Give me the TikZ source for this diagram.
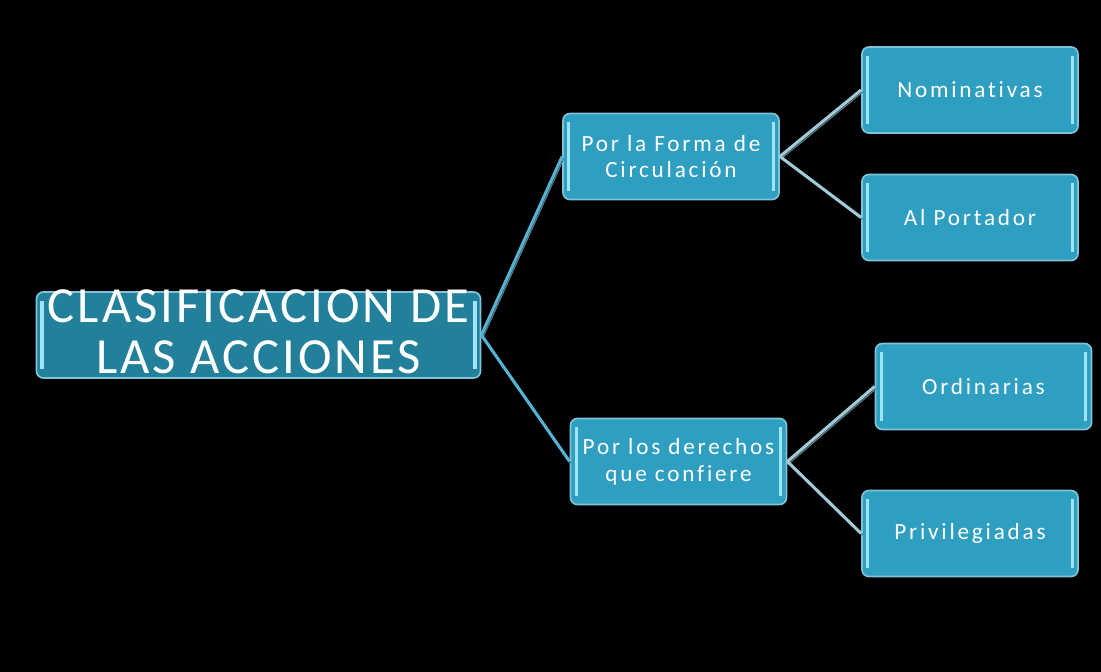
\documentclass[tikz,border=0pt]{standalone}
\usepackage{fontspec}
\setmainfont{Carlito}[Ligatures=NoCommon]
\usetikzlibrary{
  positioning,
  calc
}
\definecolor{acBlack}{HTML}{000000}
\definecolor{acTeal}{HTML}{22809A}
\definecolor{acBlue}{HTML}{2E9EC1}
\definecolor{acEdge}{HTML}{7FC3D8}
\definecolor{acStripe}{HTML}{9FE4F6}
\definecolor{acLink}{HTML}{55B2D2}
\definecolor{acLinkL}{HTML}{A2CAD7}
\definecolor{acShade}{HTML}{5E7E89}

\begin{document}
\begin{tikzpicture}[
  x=0.025cm, y=-0.025cm,
  every node/.style={font=\addfontfeatures{LetterSpace=12}\fontsize{16.5}{19}\selectfont,
    align=center, text=white},
  card/.style={
    rectangle, rounded corners=5pt,
    draw=acEdge, fill=acBlue, line width=1.2pt,
    minimum width=5.4cm, minimum height=2.15cm,
    path picture={
      \draw[acStripe, line width=2.2pt]
        ($(path picture bounding box.north west)+(0.14cm,-0.22cm)$) --
        ($(path picture bounding box.south west)+(0.14cm,0.22cm)$);
      \draw[acStripe, line width=2.2pt]
        ($(path picture bounding box.north east)+(-0.14cm,-0.22cm)$) --
        ($(path picture bounding box.south east)+(-0.14cm,0.22cm)$);
    }
  },
  root/.style={
    card, fill=acTeal, inner sep=0pt,
    text height=2.025cm, text depth=0.125cm,
    minimum width=11.1cm, minimum height=2.15cm,
    font=\addfontfeatures{LetterSpace=6}\fontsize{36}{36}\selectfont
  },
  link/.style={draw=acLink, line width=2.2pt,
    preaction={draw=acShade, line width=0.8pt,
      transform canvas={xshift=1.3pt, yshift=-1.3pt}}},
  sublink/.style={link, draw=acLinkL}
]
 % Background
 \fill[acBlack] (0,0) rectangle (1101,672);

 % Root
 \node[root] (clas) at (258.5,335) {CLASIFICACION DE\\LAS ACCIONES};

 % Second level
 \node[card] (forma) at (671,156.5) {Por la Forma de\\Circulación};
 \node[card] (derechos) at (678.5,461.5) {Por los derechos\\que confiere};

 % Leaves
 \node[card] (nomin) at (970,90) {Nominativas};
 \node[card] (portador) at (970,217.5) {Al Portador};
 \node[card] (ordin) at (983.5,386.5) {Ordinarias};
 \node[card] (privi) at (970,533.5) {Privilegiadas};

 % Connectors
 \draw[link] (clas.east) -- (forma.west);
 \draw[link] (clas.east) -- (derechos.west);
 \draw[sublink] (forma.east) -- (nomin.west);
 \draw[sublink] (forma.east) -- (portador.west);
 \draw[sublink] (derechos.east) -- (ordin.west);
 \draw[sublink] (derechos.east) -- (privi.west);
\end{tikzpicture}
\end{document}
